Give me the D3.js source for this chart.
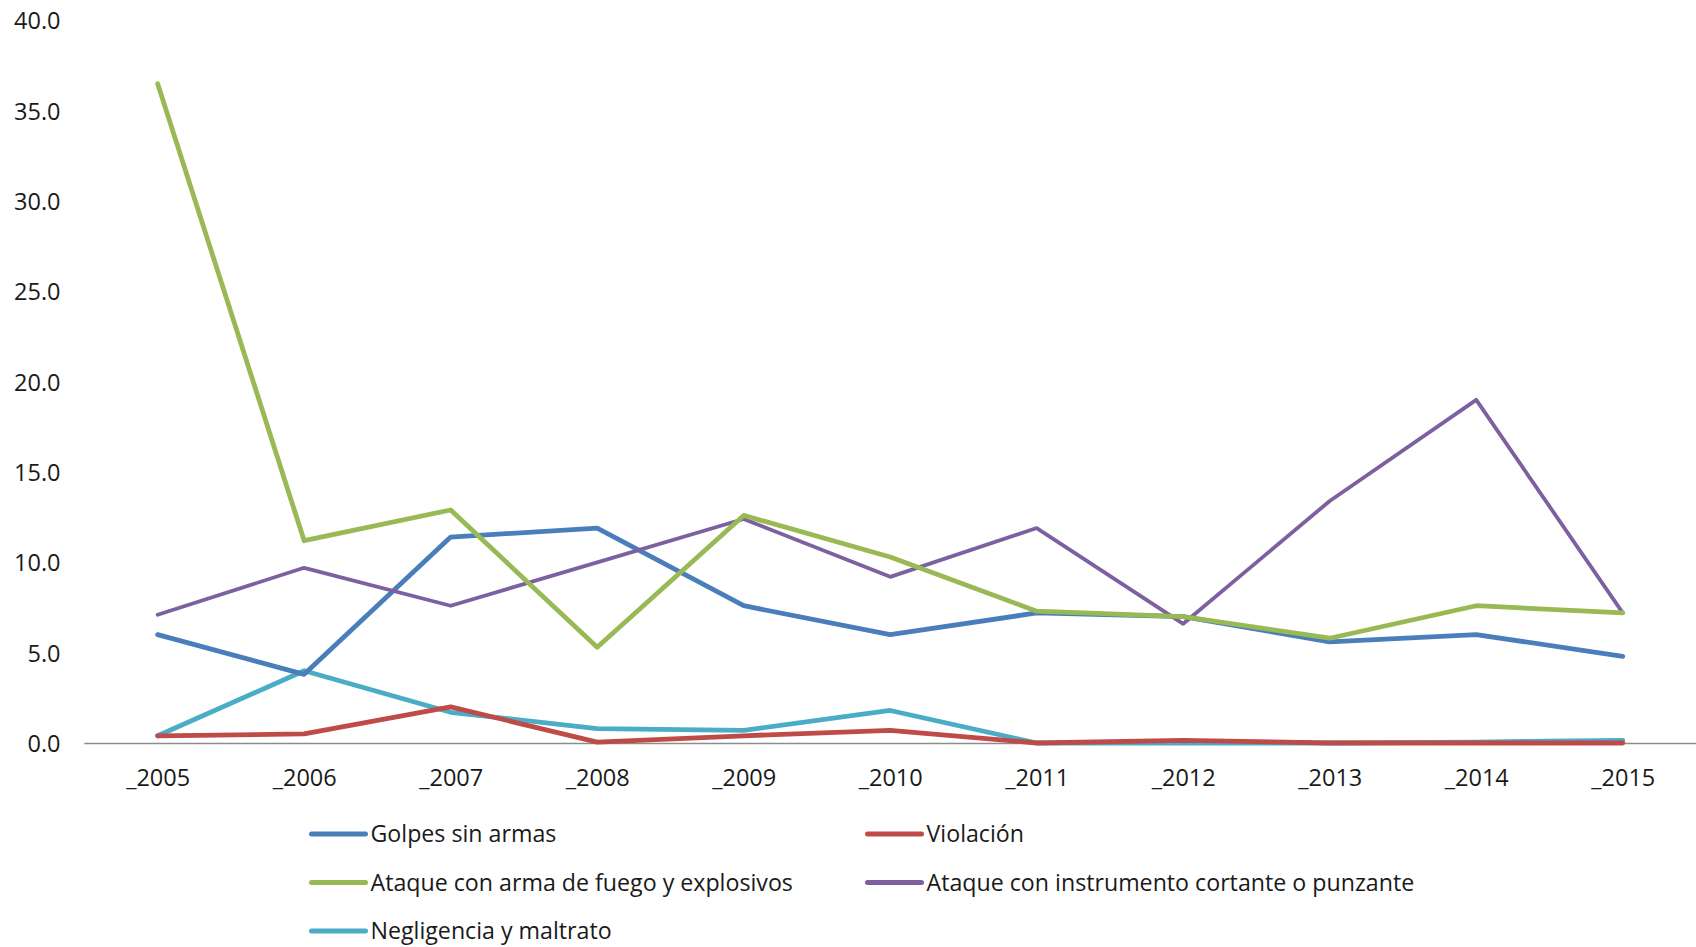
<!DOCTYPE html>
<html>
<head>
<meta charset="utf-8">
<script src="https://cdn.jsdelivr.net/npm/d3@7"></script>
<style>
  html, body { margin: 0; padding: 0; background: #fff; }
  svg { display: block; }
  text { font-family: "Open Sans", sans-serif; fill: #1a1a1a; }
</style>
</head>
<body>
<svg id="chart" width="1696" height="947"></svg>
<script>
const categories = ["_2005","_2006","_2007","_2008","_2009","_2010","_2011","_2012","_2013","_2014","_2015"];
const seriesNames = ["Golpes sin armas","Violación","Ataque con arma de fuego y explosivos","Ataque con instrumento cortante o punzante","Negligencia y maltrato"];
const golpes     = [6.0, 3.8, 11.4, 11.9, 7.6, 6.0, 7.2, 7.0, 5.6, 6.0, 4.8];
const violacion  = [0.4, 0.5, 2.0, 0.05, 0.4, 0.7, 0.0, 0.15, 0.0, 0.0, 0.0];
const armaFuego  = [36.5, 11.2, 12.9, 5.3, 12.6, 10.3, 7.3, 7.0, 5.8, 7.6, 7.2];
const cortante   = [7.1, 9.7, 7.6, 10.0, 12.4, 9.2, 11.9, 6.6, 13.4, 19.0, 7.2];
const negligencia= [0.4, 4.0, 1.7, 0.8, 0.7, 1.8, 0.0, 0.0, 0.0, 0.05, 0.15];
const yTicks = [0, 5, 10, 15, 20, 25, 30, 35, 40];
const colors = ["#4A7EBB", "#BE4B48", "#98B954", "#7D60A0", "#4BACC6"];

const seriesValues = [golpes, violacion, armaFuego, cortante, negligencia];
const widths = [4.8, 4.8, 4.8, 3.8, 4.8];

(function () {
const svg = d3.select("#chart");
const mLeft = 84.4, mRight = 1696, mTop = 20.5, mBottom = 743;

const x = d3.scalePoint().domain(categories).range([mLeft, mRight]).padding(0.5);
const y = d3.scaleLinear().domain([0, 40]).range([mBottom, mTop]);

// Y axis labels
const yAxis = d3.axisLeft(y).tickValues(yTicks).tickFormat(d3.format(".1f")).tickSize(0).tickPadding(0);
const gy = svg.append("g").attr("transform", `translate(60.5,0)`).call(yAxis);
gy.select(".domain").remove();
gy.selectAll("text").style("font-size", "23.5px").attr("fill", "#1a1a1a").attr("dy", "0.36em").attr("font-family", "Open Sans");

// X axis
const xAxis = d3.axisBottom(x).tickSize(0).tickPadding(0);
const gx = svg.append("g").attr("transform", `translate(0,${mBottom})`).call(xAxis);
gx.select(".domain").remove();
gx.selectAll("text").style("font-size", "23.5px").attr("fill", "#1a1a1a").attr("y", 35).attr("dy", "0.36em").attr("font-family", "Open Sans");
svg.append("line").attr("x1", mLeft).attr("x2", mRight).attr("y1", mBottom + 0.5).attr("y2", mBottom + 0.5)
  .attr("stroke", "#8c8c8c").attr("stroke-width", 1.5);

// Lines
const line = d3.line().x((d, i) => x(categories[i])).y(d => y(d));
const order = [4, 1, 0, 3, 2];
order.forEach(k => {
  svg.append("path").datum(seriesValues[k])
    .attr("d", line)
    .attr("fill", "none")
    .attr("stroke", colors[k])
    .attr("stroke-width", widths[k])
    .attr("stroke-linejoin", "round")
    .attr("stroke-linecap", "round");
});

// Legend
const legendPos = [[311.5, 834], [867.5, 834], [311.5, 882.5], [867.5, 882.5], [311.5, 931]];
seriesNames.forEach((name, k) => {
  const [lx, ly] = legendPos[k];
  const g = svg.append("g").attr("transform", `translate(${lx},${ly})`);
  g.append("line").attr("x1", 0).attr("x2", 54).attr("y1", 0).attr("y2", 0)
    .attr("stroke", colors[k]).attr("stroke-width", 5).attr("stroke-linecap", "round");
  g.append("text").attr("x", 59).attr("y", 0).attr("dy", "0.36em")
    .style("font-size", "23.2px").text(name);
});
})();
</script>
</body>
</html>
